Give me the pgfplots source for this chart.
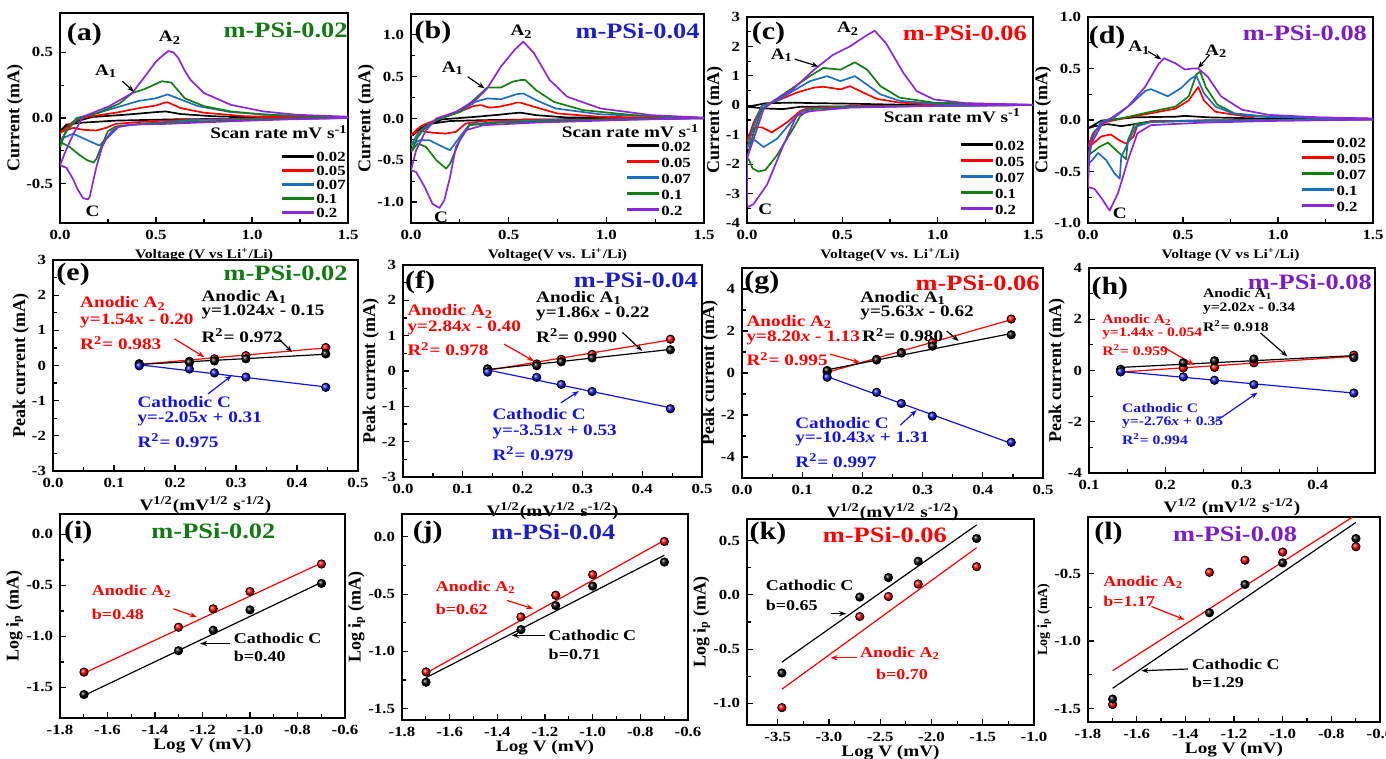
\documentclass[border=0pt]{standalone}
\usepackage{fontspec}
\setmainfont{Liberation Serif}[FakeStretch=1.2]
\newfontfamily\unst{Liberation Serif}
\usepackage{pgfplots}
\pgfplotsset{compat=1.18}
\usetikzlibrary{arrows.meta}
\newcommand\fs[1]{\fontsize{#1}{#1}\selectfont}
\definecolor{cvblue}{RGB}{30,110,190}
\definecolor{cvgreen}{RGB}{20,125,20}
\definecolor{cvpurple}{RGB}{140,40,220}
\definecolor{tgreen}{RGB}{20,120,20}
\definecolor{tblue}{RGB}{30,30,200}
\definecolor{tpurple}{RGB}{125,30,195}
\definecolor{pblue}{RGB}{20,20,225}
\pgfplotsset{
 base/.style={scale only axis, anchor=north west, tick align=inside, xtick pos=bottom, ytick pos=left,
   axis line style={line width=0.9pt}, tick style={black, line width=0.6pt}, major tick length=3pt,
   minor tick length=1.8pt, minor x tick num=1, minor y tick num=1,
   tick label style={font=\bfseries\fs{7}}, /pgf/number format/assume math mode=true,
   xlabel style={font=\bfseries\fs{6.5}, inner sep=1pt}, ylabel style={font=\unst\bfseries\fs{9}, inner sep=1pt},
   ylabel shift=-3pt},
 xzf/.style={xticklabel style={/pgf/number format/fixed,/pgf/number format/fixed zerofill,/pgf/number format/precision=1}},
 yzf/.style={yticklabel style={/pgf/number format/fixed,/pgf/number format/fixed zerofill,/pgf/number format/precision=1}},
 cv/.style={line width=0.85pt, line join=round, no markers},
 fit/.style={line width=0.6pt, no markers},
 pts/.style={only marks, mark=ball, mark size=2.1pt, mark options={ball color=#1}},
 cvleg/.style 2 args={legend style={draw=none, fill=none, at={#1}, anchor=south east, font=\bfseries\fs{7},
   inner sep=0pt, row sep=0pt, nodes={inner sep=0.5pt, text height=#2, text depth=0.5pt}},
   legend cell align=left, legend image code/.code={\draw[##1, line width=1.2pt] (0pt,0pt) -- (16pt,0pt);}},
 lgx/.style={xlabel style={font=\bfseries\fs{8}, yshift=2.5pt}},
}
\tikzset{
 ann/.style={font=\bfseries\fs{8}, inner sep=0pt, anchor=west},
 annh/.style={font=\bfseries\fs{6.5}, inner sep=0pt, anchor=west},
 ann3/.style={font=\bfseries\fs{7.5}, inner sep=0pt, anchor=west},
 pk/.style={font=\bfseries\fs{8}, inner sep=0pt},
 arr/.style={-{Stealth[length=3.5pt,width=2.6pt]}, line width=0.6pt},
 lab/.style={font=\bfseries\fs{12.5}, inner sep=0pt},
 ttl/.style={font=\bfseries\fs{11}, inner sep=0pt},
}
\begin{document}
\begin{tikzpicture}
\useasboundingbox (0,0) rectangle (693pt,-379.5pt);
% ---------------- (a)
\begin{axis}[base, at={(30pt,-6.5pt)}, width=144pt, height=105pt, xmin=0, xmax=1.5, ymin=-0.8, ymax=0.8,
  xtick={0,0.5,1,1.5}, ytick={-0.5,0,0.5}, xzf, yzf,
  xlabel={Voltage (V vs Li\textsuperscript{+}/Li)}, ylabel={Current (mA)}, cvleg={(0.997,0.015)}{5.5pt}]
\addplot[cv, black] coordinates {(1.5,0.0)(1.0,-0.005)(0.6,-0.01)(0.29,-0.02)(0.12,-0.035)(0.034,-0.05)(0,-0.10)(0.085,-0.025)(0.17,0.008)(0.34,0.025)(0.5,0.045)(0.55,0.05)(0.63,0.03)(0.8,0.013)(1.0,0.006)(1.5,0.002)};
\addlegendentry{0.02}
\addplot[cv, red] coordinates {(1.5,0)(1.0,-0.005)(0.7,-0.012)(0.46,-0.025)(0.29,-0.045)(0.24,-0.075)(0.19,-0.095)(0.12,-0.09)(0.07,-0.075)(0.017,-0.10)(0,-0.115)(0.07,-0.025)(0.137,0.008)(0.29,0.04)(0.41,0.075)(0.5,0.095)(0.54,0.115)(0.56,0.12)(0.63,0.075)(0.75,0.04)(0.97,0.013)(1.5,0.003)};
\addlegendentry{0.05}
\addplot[cv, cvblue] coordinates {(1.5,0)(1.0,-0.008)(0.7,-0.015)(0.46,-0.04)(0.31,-0.06)(0.256,-0.14)(0.205,-0.21)(0.137,-0.165)(0.068,-0.12)(0.02,-0.15)(0,-0.18)(0.04,-0.09)(0.085,0.0)(0.2,0.04)(0.34,0.10)(0.41,0.13)(0.5,0.15)(0.56,0.18)(0.63,0.14)(0.72,0.09)(0.89,0.045)(1.15,0.02)(1.5,0.005)};
\addlegendentry{0.07}
\addplot[cv, cvgreen] coordinates {(1.5,0)(1.0,-0.01)(0.89,-0.02)(0.46,-0.04)(0.29,-0.065)(0.25,-0.1)(0.22,-0.2)(0.19,-0.31)(0.175,-0.34)(0.14,-0.32)(0.10,-0.28)(0.05,-0.22)(0.01,-0.19)(0,-0.22)(0.03,-0.1)(0.10,0)(0.2,0.04)(0.31,0.11)(0.376,0.19)(0.44,0.22)(0.53,0.28)(0.58,0.27)(0.65,0.15)(0.75,0.09)(0.89,0.05)(1.06,0.025)(1.5,0.005)};
\addlegendentry{0.1}
\addplot[cv, cvpurple] coordinates {(1.5,0)(1.2,-0.01)(0.89,-0.025)(0.55,-0.045)(0.376,-0.05)(0.3,-0.07)(0.27,-0.1)(0.24,-0.16)(0.22,-0.22)(0.19,-0.37)(0.17,-0.5)(0.155,-0.6)(0.145,-0.62)(0.12,-0.61)(0.09,-0.54)(0.07,-0.47)(0.034,-0.38)(0,-0.36)(0.03,-0.25)(0.07,-0.12)(0.12,0.01)(0.256,0.09)(0.376,0.19)(0.444,0.32)(0.5,0.43)(0.53,0.47)(0.564,0.51)(0.59,0.5)(0.615,0.46)(0.65,0.36)(0.68,0.29)(0.75,0.19)(0.89,0.10)(1.06,0.05)(1.23,0.025)(1.5,0.01)};
\addlegendentry{0.2}
\node[lab] at (rel axis cs:0.085,0.9) {(a)};
\node[ttl, tgreen, anchor=east] at (rel axis cs:1.0,0.92) {m-PSi-0.02};
\node[pk] at (axis cs:0.573,0.61) {A\textsubscript{2}};
\node[pk] at (axis cs:0.24,0.355) {A\textsubscript{1}};
\draw[arr] (axis cs:0.325,0.28) -- (axis cs:0.385,0.2);
\node[pk] at (axis cs:0.17,-0.71) {C};
\node[font=\bfseries\fs{8}, inner sep=0pt, anchor=east] at (rel axis cs:1.0,0.433) {Scan rate mV s\textsuperscript{-1}};
\end{axis}
% ---------------- (b)
\begin{axis}[base, at={(205.5pt,-7pt)}, width=146.5pt, height=104.5pt, xmin=0, xmax=1.5, ymin=-1.25, ymax=1.25,
  xtick={0,0.5,1,1.5}, ytick={-1,-0.5,0,0.5,1}, xzf, yzf,
  xlabel={Voltage(V vs. Li\textsuperscript{+}/Li)}, ylabel={Current (mA)}, cvleg={(0.96,0.025)}{6.5pt}]
\addplot[cv, black] coordinates {(1.5,0.004)(1.0,-0.008)(0.6,-0.012)(0.37,-0.02)(0.2,-0.03)(0.11,-0.06)(0.043,-0.12)(0.01,-0.2)(0.04,-0.14)(0.077,-0.08)(0.16,-0.01)(0.33,0.02)(0.45,0.045)(0.51,0.06)(0.56,0.07)(0.64,0.04)(0.8,0.012)(1.5,0.004)};
\addlegendentry{0.02}
\addplot[cv, red] coordinates {(1.5,0.004)(1.0,-0.01)(0.6,-0.015)(0.37,-0.03)(0.28,-0.06)(0.23,-0.16)(0.18,-0.18)(0.11,-0.17)(0.05,-0.15)(0.02,-0.17)(0,-0.2)(0.03,-0.13)(0.06,-0.08)(0.146,0)(0.25,0.08)(0.32,0.15)(0.36,0.16)(0.4,0.13)(0.45,0.14)(0.51,0.17)(0.54,0.19)(0.56,0.19)(0.63,0.14)(0.75,0.06)(0.97,0.02)(1.5,0.004)};
\addlegendentry{0.05}
\addplot[cv, cvblue] coordinates {(1.5,0.004)(1.0,-0.012)(0.7,-0.02)(0.45,-0.04)(0.3,-0.07)(0.25,-0.22)(0.2,-0.38)(0.146,-0.32)(0.094,-0.26)(0.043,-0.26)(0,-0.32)(0.03,-0.2)(0.06,-0.12)(0.13,-0.01)(0.25,0.08)(0.33,0.2)(0.39,0.24)(0.46,0.23)(0.54,0.29)(0.575,0.30)(0.64,0.22)(0.74,0.12)(0.97,0.05)(1.5,0.005)};
\addlegendentry{0.07}
\addplot[cv, cvgreen] coordinates {(1.5,0.004)(1.0,-0.015)(0.88,-0.02)(0.45,-0.05)(0.3,-0.08)(0.25,-0.26)(0.2,-0.54)(0.18,-0.6)(0.13,-0.5)(0.077,-0.34)(0.034,-0.3)(0,-0.40)(0.03,-0.24)(0.06,-0.14)(0.13,-0.02)(0.25,0.08)(0.33,0.24)(0.39,0.37)(0.46,0.37)(0.52,0.44)(0.56,0.46)(0.585,0.46)(0.64,0.34)(0.73,0.2)(0.88,0.1)(1.14,0.04)(1.5,0.008)};
\addlegendentry{0.1}
\addplot[cv, cvpurple] coordinates {(1.5,0.005)(1.05,-0.02)(0.63,-0.05)(0.37,-0.08)(0.28,-0.14)(0.23,-0.34)(0.2,-0.7)(0.17,-0.98)(0.146,-1.07)(0.11,-1.02)(0.07,-0.82)(0.026,-0.64)(0,-0.62)(0.026,-0.38)(0.077,-0.14)(0.13,0)(0.23,0.08)(0.33,0.22)(0.39,0.36)(0.46,0.62)(0.53,0.82)(0.575,0.92)(0.63,0.78)(0.71,0.46)(0.8,0.26)(0.97,0.12)(1.23,0.04)(1.5,0.01)};
\addlegendentry{0.2}
\node[lab] at (rel axis cs:0.075,0.91) {(b)};
\node[ttl, tblue, anchor=east] at (rel axis cs:0.986,0.92) {m-PSi-0.04};
\node[pk] at (axis cs:0.566,1.04) {A\textsubscript{2}};
\node[pk] at (axis cs:0.214,0.6) {A\textsubscript{1}};
\draw[arr] (axis cs:0.29,0.5) -- (axis cs:0.377,0.36);
\node[pk] at (axis cs:0.154,-1.18) {C};
\node[font=\bfseries\fs{8}, inner sep=0pt, anchor=east] at (rel axis cs:0.985,0.44) {Scan rate mV s\textsuperscript{-1}};
\end{axis}
% ---------------- (c)
\begin{axis}[base, at={(373.5pt,-8.5pt)}, width=143pt, height=103pt, xmin=0, xmax=1.5, ymin=-4, ymax=3,
  xtick={0,0.5,1,1.5}, ytick={-4,-3,-2,-1,0,1,2,3}, xzf,
  xlabel={Voltage(V vs. Li\textsuperscript{+}/Li)}, ylabel={Current (mA)}, cvleg={(0.975,0.03)}{6.5pt}]
\addplot[cv, black] coordinates {(1.5,0.01)(0.8,-0.02)(0.28,-0.05)(0.19,-0.13)(0.1,-0.11)(0.05,-0.08)(0,-0.05)(0.1,0.07)(0.24,0.09)(0.37,0.07)(0.5,0.06)(0.8,0.02)(1.5,0.01)};
\addlegendentry{0.02}
\addplot[cv, red] coordinates {(1.5,0.01)(0.98,-0.01)(0.54,-0.04)(0.33,-0.08)(0.28,-0.19)(0.21,-0.58)(0.13,-0.92)(0.078,-0.75)(0.044,-0.75)(0.01,-1.03)(0,-1.25)(0.035,-0.58)(0.078,-0.02)(0.157,0.15)(0.26,0.43)(0.35,0.6)(0.4,0.63)(0.49,0.54)(0.54,0.65)(0.61,0.43)(0.68,0.22)(0.8,0.09)(1.0,0.03)(1.5,0.01)};
\addlegendentry{0.05}
\addplot[cv, cvblue] coordinates {(1.5,0.01)(0.98,-0.02)(0.54,-0.05)(0.33,-0.11)(0.28,-0.25)(0.23,-0.58)(0.157,-1.14)(0.087,-1.42)(0.044,-1.2)(0.017,-1.2)(0,-1.48)(0.035,-0.7)(0.078,-0.02)(0.157,0.15)(0.24,0.48)(0.33,0.82)(0.42,0.99)(0.49,0.82)(0.566,0.99)(0.63,0.7)(0.7,0.37)(0.8,0.15)(0.98,0.06)(1.5,0.01)};
\addlegendentry{0.07}
\addplot[cv, cvgreen] coordinates {(1.5,0.01)(0.98,-0.02)(0.54,-0.06)(0.33,-0.13)(0.28,-0.36)(0.23,-0.92)(0.157,-1.7)(0.096,-2.2)(0.06,-2.25)(0.03,-2.15)(0.01,-1.85)(0,-1.8)(0.035,-0.92)(0.078,-0.13)(0.14,0.15)(0.24,0.59)(0.33,0.99)(0.4,1.27)(0.49,1.21)(0.566,1.46)(0.63,1.21)(0.7,0.65)(0.8,0.26)(0.98,0.09)(1.5,0.01)};
\addlegendentry{0.1}
\addplot[cv, cvpurple] coordinates {(1.5,0.01)(0.98,-0.02)(0.54,-0.08)(0.33,-0.2)(0.26,-0.35)(0.19,-1.37)(0.105,-2.7)(0.035,-3.35)(0.01,-3.45)(0,-3.4)(0,-1.8)(0.035,-1.14)(0.087,-0.13)(0.14,0.15)(0.24,0.54)(0.35,1.2)(0.45,1.71)(0.54,2.0)(0.63,2.39)(0.67,2.53)(0.73,2.1)(0.82,1.1)(0.89,0.48)(0.98,0.2)(1.15,0.07)(1.5,0.02)};
\addlegendentry{0.2}
\node[lab] at (rel axis cs:0.075,0.92) {(c)};
\node[ttl, red, anchor=east] at (rel axis cs:0.98,0.92) {m-PSi-0.06};
\node[pk] at (axis cs:0.53,2.6) {A\textsubscript{2}};
\node[pk] at (axis cs:0.183,1.71) {A\textsubscript{1}};
\draw[arr] (axis cs:0.25,1.57) -- (axis cs:0.375,1.32);
\node[pk] at (axis cs:0.096,-3.55) {C};
\node[font=\bfseries\fs{8}, inner sep=0pt, anchor=east] at (rel axis cs:0.96,0.52) {Scan rate mV s\textsuperscript{-1}};
\end{axis}
% ---------------- (d)
\begin{axis}[base, at={(544pt,-8.5pt)}, width=142.5pt, height=103pt, xmin=0, xmax=1.5, ymin=-1, ymax=1,
  xtick={0,0.5,1,1.5}, ytick={-1,-0.5,0,0.5,1}, xzf, yzf,
  xlabel={Voltage (V vs Li\textsuperscript{+}/Li)}, ylabel={Current (mA)}, cvleg={(0.98,0.045)}{6.5pt}]
\addplot[cv, black] coordinates {(1.5,0.01)(0.95,0.0)(0.6,-0.006)(0.33,-0.013)(0.245,-0.04)(0.175,-0.06)(0.105,-0.04)(0.035,-0.06)(0,-0.08)(0.07,-0.006)(0.245,0.026)(0.46,0.032)(0.51,0.04)(0.63,0.026)(0.95,0.013)(1.5,0.01)};
\addlegendentry{0.02}
\addplot[cv, red] coordinates {(1.5,0.005)(0.6,-0.005)(0.33,-0.013)(0.26,-0.05)(0.24,-0.16)(0.2,-0.23)(0.158,-0.19)(0.12,-0.14)(0.07,-0.16)(0.026,-0.23)(0,-0.26)(0.026,-0.13)(0.079,-0.026)(0.21,0.026)(0.33,0.065)(0.46,0.11)(0.53,0.19)(0.58,0.32)(0.61,0.19)(0.67,0.08)(0.81,0.04)(1.5,0.01)};
\addlegendentry{0.05}
\addplot[cv, cvgreen] coordinates {(1.5,0.005)(0.6,-0.006)(0.33,-0.02)(0.245,-0.04)(0.21,-0.2)(0.2,-0.38)(0.158,-0.31)(0.105,-0.22)(0.061,-0.26)(0.018,-0.32)(0,-0.34)(0.035,-0.11)(0.088,-0.016)(0.21,0.03)(0.33,0.08)(0.46,0.13)(0.53,0.23)(0.57,0.44)(0.59,0.47)(0.62,0.32)(0.68,0.15)(0.77,0.065)(0.95,0.03)(1.5,0.01)};
\addlegendentry{0.07}
\addplot[cv, cvblue] coordinates {(1.5,0.005)(0.6,-0.006)(0.33,-0.02)(0.25,-0.065)(0.175,-0.36)(0.167,-0.57)(0.14,-0.52)(0.096,-0.39)(0.053,-0.32)(0.018,-0.4)(0,-0.42)(0.026,-0.16)(0.07,-0.016)(0.14,0.026)(0.23,0.16)(0.3,0.28)(0.33,0.3)(0.37,0.27)(0.42,0.23)(0.49,0.31)(0.54,0.4)(0.57,0.43)(0.61,0.26)(0.67,0.13)(0.77,0.06)(0.95,0.03)(1.5,0.01)};
\addlegendentry{0.1}
\addplot[cv, cvpurple] coordinates {(1.5,0.005)(0.95,-0.01)(0.6,-0.026)(0.33,-0.05)(0.26,-0.13)(0.21,-0.39)(0.158,-0.71)(0.114,-0.88)(0.079,-0.78)(0.035,-0.67)(0,-0.65)(0.009,-0.26)(0.07,-0.05)(0.12,0.016)(0.21,0.13)(0.3,0.32)(0.37,0.54)(0.4,0.6)(0.46,0.55)(0.51,0.49)(0.55,0.5)(0.58,0.5)(0.63,0.42)(0.7,0.23)(0.81,0.1)(0.95,0.05)(1.21,0.026)(1.5,0.015)};
\addlegendentry{0.2}
\node[lab] at (rel axis cs:0.067,0.9) {(d)};
\node[ttl, tpurple, anchor=east] at (rel axis cs:0.98,0.92) {m-PSi-0.08};
\node[pk] at (axis cs:0.27,0.7) {A\textsubscript{1}};
\draw[arr] (axis cs:0.316,0.666) -- (axis cs:0.386,0.59);
\node[pk] at (axis cs:0.675,0.666) {A\textsubscript{2}};
\draw[arr] (axis cs:0.64,0.633) -- (axis cs:0.579,0.503);
\node[pk] at (axis cs:0.167,-0.91) {C};
\end{axis}
% ---------------- (e)
\begin{axis}[base, at={(26.5pt,-130pt)}, width=152.5pt, height=105.5pt, xmin=0, xmax=0.5, ymin=-3, ymax=3,
  xtick={0,0.1,0.2,0.3,0.4,0.5}, ytick={-3,-2,-1,0,1,2,3}, xzf,
  xlabel={V\textsuperscript{1/2}(mV\textsuperscript{1/2} s\textsuperscript{-1/2})}, ylabel={Peak current (mA)},
  xlabel style={font=\bfseries\fs{8}}]
\addplot[fit, red] coordinates {(0.1414,0.03)(0.4472,0.5)};
\addplot[fit, black] coordinates {(0.1414,0.03)(0.4472,0.32)};
\addplot[fit, pblue] coordinates {(0.1414,0.02)(0.4472,-0.61)};
\addplot[pts=red] coordinates {(0.1414,0.05)(0.2236,0.12)(0.2646,0.19)(0.3162,0.28)(0.4472,0.51)};
\addplot[pts=black] coordinates {(0.1414,0.04)(0.2236,0.09)(0.2646,0.13)(0.3162,0.19)(0.4472,0.33)};
\addplot[pts=pblue] coordinates {(0.1414,-0.01)(0.2236,-0.1)(0.2646,-0.21)(0.3162,-0.33)(0.4472,-0.62)};
\node[lab] at (rel axis cs:0.066,0.93) {(e)};
\node[ttl, tgreen, anchor=east] at (rel axis cs:0.967,0.94) {m-PSi-0.02};
\node[ann, red] at (axis cs:0.044,1.76) {Anodic A\textsubscript{2}};
\node[ann, red] at (axis cs:0.044,1.26) {y=1.54\textit{x} - 0.20};
\node[ann, red] at (axis cs:0.044,0.64) {R\textsuperscript{2}= 0.983};
\draw[arr, red] (axis cs:0.199,0.76) -- (axis cs:0.248,0.24);
\node[ann] at (axis cs:0.243,1.95) {Anodic A\textsubscript{1}};
\node[ann] at (axis cs:0.243,1.52) {y=1.024\textit{x} - 0.15};
\node[ann] at (axis cs:0.243,0.85) {R\textsuperscript{2}= 0.972};
\draw[arr] (axis cs:0.37,0.76) -- (axis cs:0.392,0.38);
\node[ann, pblue] at (axis cs:0.138,-1.03) {Cathodic C};
\node[ann, pblue] at (axis cs:0.138,-1.52) {y=-2.05\textit{x} + 0.31};
\node[ann, pblue] at (axis cs:0.138,-2.14) {R\textsuperscript{2}= 0.975};
\draw[arr, pblue] (axis cs:0.254,-0.81) -- (axis cs:0.293,-0.285);
\end{axis}
% ---------------- (f)
\begin{axis}[base, at={(201.5pt,-132.5pt)}, width=149.5pt, height=106pt, xmin=0, xmax=0.5, ymin=-3, ymax=3,
  xtick={0,0.1,0.2,0.3,0.4,0.5}, ytick={-3,-2,-1,0,1,2,3}, xzf,
  xlabel={V\textsuperscript{1/2}(mV\textsuperscript{1/2} s\textsuperscript{-1/2})}, ylabel={Peak current (mA)},
  xlabel style={font=\bfseries\fs{8}}]
\addplot[fit, red] coordinates {(0.1414,0.02)(0.4472,0.88)};
\addplot[fit, black] coordinates {(0.1414,0.04)(0.4472,0.61)};
\addplot[fit, pblue] coordinates {(0.1414,0.03)(0.4472,-1.04)};
\addplot[pts=red] coordinates {(0.1414,0.05)(0.2236,0.2)(0.2646,0.33)(0.3162,0.47)(0.4472,0.9)};
\addplot[pts=black] coordinates {(0.1414,0.06)(0.2236,0.15)(0.2646,0.26)(0.3162,0.37)(0.4472,0.6)};
\addplot[pts=pblue] coordinates {(0.1414,-0.03)(0.2236,-0.18)(0.2646,-0.38)(0.3162,-0.58)(0.4472,-1.07)};
\node[lab] at (rel axis cs:0.057,0.92) {(f)};
\node[ttl, tblue, anchor=east] at (rel axis cs:0.987,0.93) {m-PSi-0.04};
\node[ann, red] at (axis cs:0.007,1.69) {Anodic A\textsubscript{2}};
\node[ann, red] at (axis cs:0.007,1.23) {y=2.84\textit{x} - 0.40};
\node[ann, red] at (axis cs:0.007,0.62) {R\textsuperscript{2}= 0.978};
\draw[arr, red] (axis cs:0.169,0.76) -- (axis cs:0.219,0.28);
\node[ann] at (axis cs:0.222,2.07) {Anodic A\textsubscript{1}};
\node[ann] at (axis cs:0.222,1.61) {y=1.86\textit{x} - 0.22};
\node[ann] at (axis cs:0.222,1.0) {R\textsuperscript{2}= 0.990};
\draw[arr] (axis cs:0.367,1.09) -- (axis cs:0.4,0.57);
\node[ann, pblue] at (axis cs:0.149,-1.23) {Cathodic C};
\node[ann, pblue] at (axis cs:0.149,-1.71) {y=-3.51\textit{x} + 0.53};
\node[ann, pblue] at (axis cs:0.149,-2.33) {R\textsuperscript{2}= 0.979};
\draw[arr, pblue] (axis cs:0.264,-0.9) -- (axis cs:0.294,-0.57);
\end{axis}
% ---------------- (g)
\begin{axis}[base, at={(371pt,-134pt)}, width=150.5pt, height=105pt, xmin=0, xmax=0.5, ymin=-5, ymax=5,
  xtick={0,0.1,0.2,0.3,0.4,0.5}, ytick={-4,-2,0,2,4}, xzf,
  xlabel={V\textsuperscript{1/2}(mV\textsuperscript{1/2} s\textsuperscript{-1/2})}, ylabel={Peak current (mA)},
  xlabel style={font=\bfseries\fs{8}}]
\addplot[fit, red] coordinates {(0.1414,0.03)(0.4472,2.54)};
\addplot[fit, black] coordinates {(0.1414,0.15)(0.4472,1.88)};
\addplot[fit, pblue] coordinates {(0.1414,-0.17)(0.4472,-3.35)};
\addplot[pts=red] coordinates {(0.1414,0.05)(0.2236,0.65)(0.2646,0.98)(0.3162,1.45)(0.4472,2.57)};
\addplot[pts=black] coordinates {(0.1414,0.12)(0.2236,0.62)(0.2646,0.95)(0.3162,1.28)(0.4472,1.82)};
\addplot[pts=pblue] coordinates {(0.1414,-0.2)(0.2236,-0.92)(0.2646,-1.45)(0.3162,-2.05)(0.4472,-3.3)};
\node[lab] at (rel axis cs:0.066,0.93) {(g)};
\node[ttl, red, anchor=east] at (rel axis cs:0.99,0.93) {m-PSi-0.06};
\node[ann, red] at (axis cs:0.007,2.43) {Anodic A\textsubscript{2}};
\node[ann, red] at (axis cs:0.007,1.68) {y=8.20\textit{x} - 1.13};
\node[ann, red] at (axis cs:0.007,0.66) {R\textsuperscript{2}= 0.995};
\draw[arr, red] (axis cs:0.146,0.9) -- (axis cs:0.196,0.5);
\node[ann] at (axis cs:0.196,3.56) {Anodic A\textsubscript{1}};
\node[ann] at (axis cs:0.196,2.86) {y=5.63\textit{x} - 0.62};
\node[ann] at (axis cs:0.199,1.8) {R\textsuperscript{2}= 0.980};
\draw[arr] (axis cs:0.34,2.0) -- (axis cs:0.36,1.52);
\node[ann, pblue] at (axis cs:0.088,-2.37) {Cathodic C};
\node[ann, pblue] at (axis cs:0.088,-3.14) {y=-10.43\textit{x} + 1.31};
\node[ann, pblue] at (axis cs:0.088,-4.16) {R\textsuperscript{2}= 0.997};
\draw[arr, pblue] (axis cs:0.263,-2.48) -- (axis cs:0.29,-1.77);
\end{axis}
% ---------------- (h)
\begin{axis}[base, at={(544.5pt,-134pt)}, width=143pt, height=102.5pt, xmin=0.1, xmax=0.475, ymin=-4, ymax=4,
  xtick={0.1,0.2,0.3,0.4}, ytick={-4,-2,0,2,4}, xzf,
  xlabel={V\textsuperscript{1/2} (mV\textsuperscript{1/2} s\textsuperscript{-1/2})}, ylabel={Peak current (mA)},
  xlabel style={font=\bfseries\fs{8}}]
\addplot[fit, red] coordinates {(0.1414,-0.06)(0.4472,0.55)};
\addplot[fit, black] coordinates {(0.1414,0.12)(0.4472,0.58)};
\addplot[fit, pblue] coordinates {(0.1414,-0.04)(0.4472,-0.88)};
\addplot[pts=red] coordinates {(0.1414,-0.05)(0.2236,0.1)(0.2646,0.12)(0.3162,0.3)(0.4472,0.6)};
\addplot[pts=black] coordinates {(0.1414,0.05)(0.2236,0.3)(0.2646,0.38)(0.3162,0.45)(0.4472,0.5)};
\addplot[pts=pblue] coordinates {(0.1414,-0.05)(0.2236,-0.25)(0.2646,-0.38)(0.3162,-0.55)(0.4472,-0.88)};
\node[lab] at (rel axis cs:0.073,0.9) {(h)};
\node[ttl, tpurple, anchor=east] at (rel axis cs:0.99,0.93) {m-PSi-0.08};
\node[annh] at (axis cs:0.249,3.0) {Anodic A\textsubscript{1}};
\node[annh] at (axis cs:0.249,2.43) {y=2.02\textit{x} - 0.34};
\node[annh] at (axis cs:0.249,1.74) {R\textsuperscript{2}= 0.918};
\draw[arr] (axis cs:0.325,1.46) -- (axis cs:0.36,0.55);
\node[annh, red] at (axis cs:0.117,1.98) {Anodic A\textsubscript{2}};
\node[annh, red] at (axis cs:0.117,1.43) {y=1.44\textit{x} - 0.054};
\node[annh, red] at (axis cs:0.117,0.81) {R\textsuperscript{2}= 0.959};
\draw[arr, red] (axis cs:0.196,0.94) -- (axis cs:0.238,0.22);
\node[annh, pblue] at (axis cs:0.143,-1.47) {Cathodic C};
\node[annh, pblue] at (axis cs:0.143,-2.03) {y=-2.76\textit{x} + 0.35};
\node[annh, pblue] at (axis cs:0.143,-2.68) {R\textsuperscript{2}= 0.994};
\draw[arr, pblue] (axis cs:0.266,-1.99) -- (axis cs:0.321,-0.86);
\end{axis}
% ---------------- (i)
\begin{axis}[base, at={(30pt,-257pt)}, width=142.5pt, height=102pt, xmin=-1.8, xmax=-0.6, ymin=-1.8, ymax=0.2,
  xtick={-1.8,-1.6,-1.4,-1.2,-1,-0.8,-0.6}, ytick={-1.5,-1,-0.5,0}, xzf, yzf,
  xlabel={Log V (mV)}, ylabel={Log i\textsubscript{p} (mA)}, lgx]
\addplot[fit, red] coordinates {(-1.699,-1.36)(-0.699,-0.28)};
\addplot[fit, black] coordinates {(-1.699,-1.58)(-0.699,-0.47)};
\addplot[pts=red] coordinates {(-1.699,-1.35)(-1.301,-0.91)(-1.155,-0.73)(-1.0,-0.56)(-0.699,-0.29)};
\addplot[pts=black] coordinates {(-1.699,-1.57)(-1.301,-1.14)(-1.155,-0.94)(-1.0,-0.74)(-0.699,-0.48)};
\node[lab] at (rel axis cs:0.064,0.907) {(i)};
\node[ttl, tgreen] at (axis cs:-1.154,0.03) {m-PSi-0.02};
\node[ann3, red] at (axis cs:-1.667,-0.56) {Anodic A\textsubscript{2}};
\node[ann3, red] at (axis cs:-1.667,-0.78) {b=0.48};
\draw[arr, red] (axis cs:-1.322,-0.73) -- (axis cs:-1.224,-0.81);
\node[ann3] at (axis cs:-1.07,-1.02) {Cathodic C};
\node[ann3] at (axis cs:-1.07,-1.2) {b=0.40};
\draw[arr] (axis cs:-1.084,-1.07) -- (axis cs:-1.21,-1.07);
\end{axis}
% ---------------- (j)
\begin{axis}[base, at={(201pt,-257pt)}, width=143pt, height=103pt, xmin=-1.8, xmax=-0.6, ymin=-1.6, ymax=0.2,
  xtick={-1.8,-1.6,-1.4,-1.2,-1,-0.8,-0.6}, ytick={-1.5,-1,-0.5,0}, xzf, yzf,
  xlabel={Log V (mV)}, ylabel={Log i\textsubscript{p} (mA)}, lgx]
\addplot[fit, red] coordinates {(-1.699,-1.19)(-0.699,-0.03)};
\addplot[fit, black] coordinates {(-1.699,-1.23)(-0.699,-0.16)};
\addplot[pts=red] coordinates {(-1.699,-1.18)(-1.301,-0.70)(-1.155,-0.51)(-1.0,-0.33)(-0.699,-0.04)};
\addplot[pts=black] coordinates {(-1.699,-1.27)(-1.301,-0.81)(-1.155,-0.60)(-1.0,-0.43)(-0.699,-0.22)};
\node[lab] at (rel axis cs:0.09,0.91) {(j)};
\node[ttl, tblue] at (axis cs:-1.165,0.04) {m-PSi-0.04};
\node[ann3, red] at (axis cs:-1.66,-0.44) {Anodic A\textsubscript{2}};
\node[ann3, red] at (axis cs:-1.66,-0.63) {b=0.62};
\draw[arr, red] (axis cs:-1.36,-0.555) -- (axis cs:-1.25,-0.627);
\node[ann3] at (axis cs:-1.186,-0.86) {Cathodic C};
\node[ann3] at (axis cs:-1.186,-1.03) {b=0.71};
\draw[arr] (axis cs:-1.2,-0.86) -- (axis cs:-1.34,-0.86);
\end{axis}
% ---------------- (k)
\begin{axis}[base, at={(373.5pt,-259.5pt)}, width=143.5pt, height=103pt, xmin=-3.8, xmax=-1.0, ymin=-1.2, ymax=0.7,
  xtick={-3.5,-3,-2.5,-2,-1.5,-1}, ytick={-1,-0.5,0,0.5}, xzf, yzf,
  xlabel={Log V (mV)}, ylabel={Log i\textsubscript{p} (mA)}, lgx]
\addplot[fit, black] coordinates {(-3.46,-0.62)(-1.56,0.645)};
\addplot[fit, red] coordinates {(-3.46,-0.87)(-1.56,0.435)};
\addplot[pts=black] coordinates {(-3.46,-0.72)(-2.70,-0.02)(-2.42,0.16)(-2.13,0.31)(-1.56,0.52)};
\addplot[pts=red] coordinates {(-3.46,-1.04)(-2.70,-0.2)(-2.42,-0.015)(-2.13,0.10)(-1.56,0.26)};
\node[lab] at (rel axis cs:0.073,0.93) {(k)};
\node[ttl, red] at (axis cs:-2.455,0.556) {m-PSi-0.06};
\node[ann3] at (axis cs:-3.62,0.085) {Cathodic C};
\node[ann3] at (axis cs:-3.62,-0.097) {b=0.65};
\draw[arr] (axis cs:-2.985,-0.173) -- (axis cs:-2.833,-0.173);
\node[ann3, red] at (axis cs:-2.70,-0.54) {Anodic A\textsubscript{2}};
\node[ann3, red] at (axis cs:-2.545,-0.735) {b=0.70};
\draw[arr, red] (axis cs:-2.727,-0.58) -- (axis cs:-2.985,-0.58);
\end{axis}
% ---------------- (l)
\begin{axis}[base, at={(544pt,-258.5pt)}, width=146pt, height=102.5pt, xmin=-1.8, xmax=-0.6, ymin=-1.6, ymax=-0.08,
  xtick={-1.8,-1.6,-1.4,-1.2,-1,-0.8,-0.6}, ytick={-1.5,-1,-0.5}, xzf, yzf,
  xlabel={Log V (mV)}, ylabel={Log i\textsubscript{p} (mA)}, lgx,
  ylabel style={font=\unst\bfseries\fs{7}}]
\addplot[fit, red] coordinates {(-1.699,-1.22)(-0.699,-0.065)};
\addplot[fit, black] coordinates {(-1.699,-1.35)(-0.699,-0.12)};
\addplot[pts=red] coordinates {(-1.699,-1.47)(-1.301,-0.49)(-1.155,-0.40)(-1.0,-0.34)(-0.699,-0.30)};
\addplot[pts=black] coordinates {(-1.699,-1.43)(-1.301,-0.79)(-1.155,-0.58)(-1.0,-0.42)(-0.699,-0.24)};
\node[lab] at (rel axis cs:0.07,0.92) {(l)};
\node[ttl, tpurple] at (axis cs:-1.196,-0.207) {m-PSi-0.08};
\node[ann3, red] at (axis cs:-1.739,-0.561) {Anodic A\textsubscript{2}};
\node[ann3, red] at (axis cs:-1.739,-0.707) {b=1.17};
\draw[arr, red] (axis cs:-1.539,-0.744) -- (axis cs:-1.403,-0.841);
\node[ann3] at (axis cs:-1.374,-1.17) {Cathodic C};
\node[ann3] at (axis cs:-1.374,-1.305) {b=1.29};
\draw[arr] (axis cs:-1.389,-1.207) -- (axis cs:-1.581,-1.22);
\end{axis}
\end{tikzpicture}
\end{document}
